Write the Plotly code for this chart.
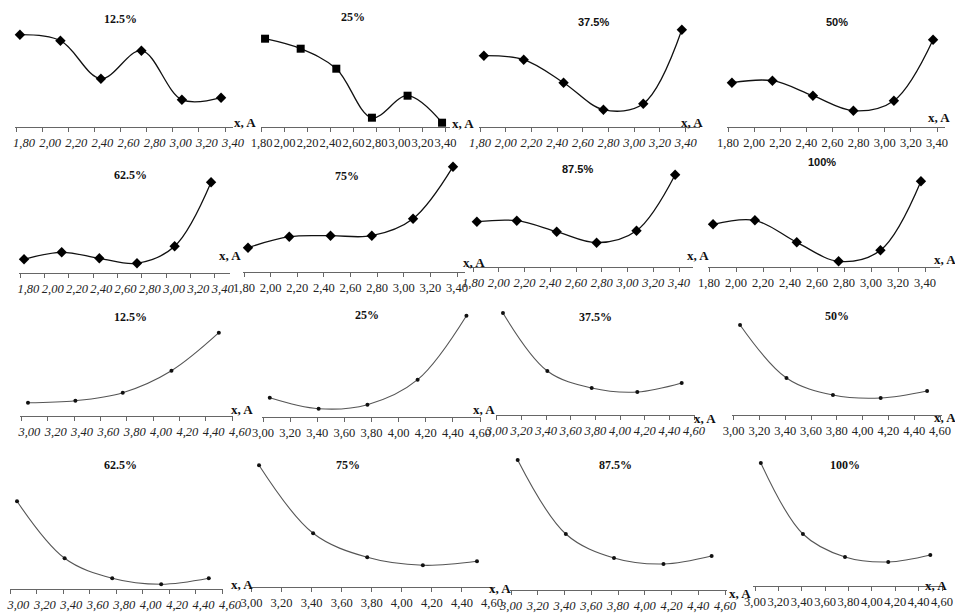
import plotly.graph_objects as go

W, H = 955, 613

# ---------------- data (heights read above each panel's x-axis, relative units) ----------------
titles = ["12.5%", "25%", "37.5%", "50%", "62.5%", "75%", "87.5%", "100%",
          "12.5%", "25%", "37.5%", "50%", "62.5%", "75%", "87.5%", "100%"]

x_top = [1.83, 2.14, 2.45, 2.76, 3.07, 3.37]
x_bot = [3.05, 3.41, 3.77, 4.14, 4.50]

y_p1 = [92, 86, 48, 76, 27, 29]
y_p2 = [88, 78, 58, 9, 31, 4]
y_p3 = [71, 67, 44, 17, 23, 97]
y_p4 = [44, 46, 31, 16, 26, 87]
y_p5 = [14, 21, 15, 10, 27, 91]
y_p6 = [24, 35, 36, 36, 53, 105]
y_p7 = [45, 46, 35, 24, 36, 92]
y_p8 = [43, 47, 25, 6, 17, 86]

y_p9 = [13, 15, 23, 45, 83]
y_p10 = [19, 8, 12, 37, 101]
y_p11 = [102, 44, 27, 23, 32]
y_p12 = [90, 37, 20, 17, 24]
y_p13 = [88, 31, 11, 5, 11]
y_p14 = [122, 54, 30, 22, 26]
y_p15 = [130, 56, 32, 26, 34]
y_p16 = [123, 52, 29, 24, 31]

ticks_top = [1.8, 2.0, 2.2, 2.4, 2.6, 2.8, 3.0, 3.2, 3.4]
ticks_top_txt = ["1,80", "2,00", "2,20", "2,40", "2,60", "2,80", "3,00", "3,20", "3,40"]
ticks_bot = [3.0, 3.2, 3.4, 3.6, 3.8, 4.0, 4.2, 4.4, 4.6]
ticks_bot_txt = ["3,00", "3,20", "3,40", "3,60", "3,80", "4,00", "4,20", "4,40", "4,60"]

series_y = [y_p1, y_p2, y_p3, y_p4, y_p5, y_p6, y_p7, y_p8,
            y_p9, y_p10, y_p11, y_p12, y_p13, y_p14, y_p15, y_p16]

# ---------------- layout geometry (pixels) ----------------
# (pixel of first tick, pixel of last tick, axis left, axis right, axis y)
geom = [
    (16, 225, 15, 233, 126.7), (261.6, 445.5, 261, 450, 126.7),
    (480, 685.7, 479, 700, 126.7), (728, 937, 727, 945, 126.7),
    (20.4, 214.7, 19, 230, 273.3), (244, 457, 243, 465, 271.7),
    (473, 679, 468, 693, 266.7), (709, 925, 708, 940, 267.3),
    (21.4, 232, 20, 233, 415.7), (263, 480, 262, 481, 416.7),
    (496.8, 694, 496, 695, 415), (733.6, 940, 732, 942, 415),
    (10.4, 222, 9.5, 223, 589.3), (251.5, 492, 250.5, 493, 587.3),
    (511, 725, 510, 727, 590), (755, 942, 753, 943, 586),
]
title_pos = [(120, 19), (353, 17), (593, 22), (837, 22),
             (130, 175), (347, 176), (577, 169), (822, 162),
             (130, 317), (367, 315), (595, 317), (837, 316),
             (120, 465), (348, 465), (615, 465), (845, 465)]
xlab_pos = [(245, 122), (463, 123), (692, 122), (939, 117),
            (230, 255), (474, 262), (698, 255), (945, 259),
            (242, 410), (484, 410), (705, 418), (945, 417),
            (242, 584), (500, 588), (740, 593), (936, 585)]
sans_titles = {2, 3, 6, 7}

SERIF = "Liberation Serif"
SANS = "Liberation Sans"

fig = go.Figure()
annotations = []

for i in range(16):
    top = i < 8
    xs = x_top if top else x_bot
    tv = ticks_top if top else ticks_bot
    tt = ticks_top_txt if top else ticks_bot_txt
    p_lo, p_hi, L, R, ay = geom[i]
    v0, v1 = tv[0], tv[-1]
    scale = (v1 - v0) / (p_hi - p_lo)
    xr = [v0 + (L - p_lo) * scale, v0 + (R - p_lo) * scale]
    hgt = 140 if i >= 12 else 125
    below = 6
    n = i + 1
    xa = "xaxis" if n == 1 else f"xaxis{n}"
    ya = "yaxis" if n == 1 else f"yaxis{n}"
    xref = "x" if n == 1 else f"x{n}"
    yref = "y" if n == 1 else f"y{n}"

    if top:
        symbol = "square" if i == 1 else "diamond"
        msize = 8
        lcol, lw, mcol = "#111111", 1.3, "#000000"
    else:
        symbol, msize = "circle", 4
        lcol, lw, mcol = "#555555", 1.1, "#111111"

    fig.add_trace(go.Scatter(
        x=xs, y=series_y[i], xaxis=xref, yaxis=yref,
        mode="lines+markers",
        line=dict(shape="spline", smoothing=1.0, color=lcol, width=lw),
        marker=dict(symbol=symbol, size=msize, color=mcol),
        cliponaxis=False, showlegend=False, hoverinfo="skip",
    ))

    italic = (i % 2 == 0)
    fig.layout[xa] = dict(
        domain=[L / W, R / W], range=xr, anchor="free",
        position=1 - ay / H, automargin=False, tickangle=0,
        ticklabelshift=8 if i % 4 == 0 else 0,
        showline=True, linecolor="#666666", linewidth=1,
        ticks="outside", ticklen=4, tickcolor="#666666", tickwidth=1,
        tickvals=tv, ticktext=tt, showgrid=False, zeroline=False,
        tickfont=dict(family=SERIF, size=12.5, color="#222222",
                      style="italic" if italic else "normal"),
        fixedrange=True,
    )
    fig.layout[ya] = dict(
        domain=[1 - (ay + below) / H, 1 - (ay - hgt) / H],
        range=[-below, hgt], visible=False, anchor=xref, fixedrange=True,
        automargin=False,
    )

    tx, ty = title_pos[i]
    annotations.append(dict(
        text=f"<b>{titles[i]}</b>", x=tx / W, y=1 - ty / H, xref="paper", yref="paper",
        showarrow=False, xanchor="center", yanchor="middle",
        font=dict(family=SANS if i in sans_titles else SERIF,
                  size=11 if i in sans_titles else 12, color="#111111"),
    ))
    lx, ly = xlab_pos[i]
    annotations.append(dict(
        text="<b>x, A</b>", x=lx / W, y=1 - ly / H, xref="paper", yref="paper",
        showarrow=False, xanchor="center", yanchor="middle",
        font=dict(family=SERIF, size=13, color="#111111"),
    ))

fig.update_layout(
    width=W, height=H, autosize=False,
    margin=dict(l=0, r=0, t=0, b=0, pad=0, autoexpand=False),
    paper_bgcolor="white", plot_bgcolor="rgba(0,0,0,0)",
    annotations=annotations,
)

fig.write_html("out.html", config={"displayModeBar": False},
               post_script="document.body.style.margin='0';document.body.style.overflow='hidden';")
